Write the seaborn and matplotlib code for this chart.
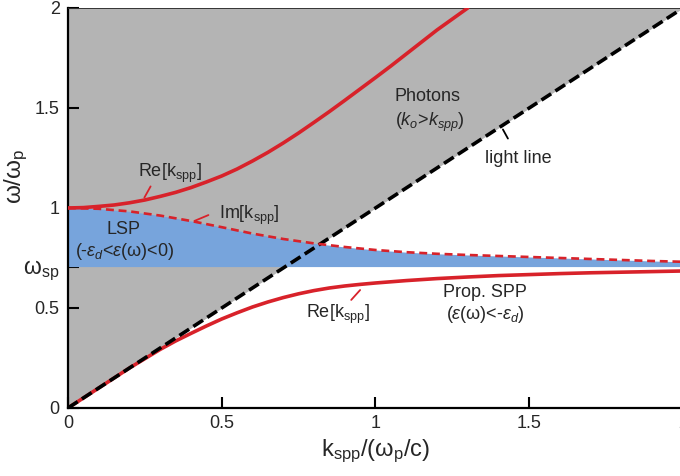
import numpy as np
import pandas as pd
import matplotlib
matplotlib.use("Agg")
import matplotlib.pyplot as plt
import seaborn as sns

# ---- data ----
upper_re_k = [0.0, 0.05, 0.10, 0.15, 0.20, 0.25, 0.30, 0.35, 0.40, 0.45, 0.50, 0.55, 0.60,
              0.65, 0.70, 0.75, 0.80, 0.85, 0.90, 0.95, 1.00, 1.05, 1.10, 1.15, 1.20, 1.25, 1.30]
upper_re_w = [1.0, 1.002, 1.008, 1.015, 1.026, 1.04, 1.058, 1.078, 1.102, 1.13, 1.16, 1.195, 1.235,
              1.278, 1.325, 1.375, 1.428, 1.482, 1.538, 1.595, 1.652, 1.71, 1.77, 1.83, 1.89, 1.945, 2.0]

im_k = [0.0, 0.1, 0.2, 0.3, 0.4, 0.5, 0.6, 0.7, 0.8, 0.9, 1.0, 1.1, 1.2, 1.3, 1.4, 1.5,
        1.6, 1.7, 1.8, 1.9, 2.0]
im_w = [1.0, 0.996, 0.983, 0.962, 0.935, 0.904, 0.872, 0.845, 0.823, 0.805, 0.790, 0.779,
        0.771, 0.765, 0.760, 0.755, 0.750, 0.745, 0.740, 0.735, 0.731]

lower_re_k = [0.0, 0.1, 0.2, 0.3, 0.35, 0.4, 0.45, 0.5, 0.55, 0.6, 0.65, 0.7, 0.75, 0.8, 0.85,
              0.9, 0.95, 1.0, 1.1, 1.2, 1.3, 1.4, 1.5, 1.6, 1.7, 1.8, 1.9, 2.0]
lower_re_w = [0.0, 0.1, 0.2, 0.293, 0.335, 0.373, 0.41, 0.445, 0.476, 0.505, 0.53, 0.552, 0.571,
              0.587, 0.6, 0.61, 0.618, 0.625, 0.637, 0.647, 0.655, 0.662, 0.667, 0.672, 0.676,
              0.679, 0.682, 0.685]

light_k = [0.0, 2.0]
light_w = [0.0, 2.0]

w_sp = 0.707

x_ticks = [0, 0.5, 1, 1.5, 2]
x_tick_labels = ["0", "0.5", "1", "1.5", "2"]
y_ticks = [0, 0.5, w_sp, 1, 1.5, 2]
y_tick_labels = ["0", "0.5", r"ω$_\mathrm{sp}$", "1", "1.5", "2"]

# ---- style ----
sns.set_style("ticks")
plt.rcParams["font.family"] = ["Liberation Sans", "DejaVu Sans"]
plt.rcParams["mathtext.fontset"] = "custom"
plt.rcParams["mathtext.rm"] = "Liberation Sans"
plt.rcParams["mathtext.it"] = "Liberation Sans:italic"
plt.rcParams["mathtext.bf"] = "Liberation Sans:bold"

RED = "#d8222a"
GRAY = "#b4b4b4"
BLUE = "#77a4dc"

fig = plt.figure(figsize=(6.8, 4.76), dpi=100)
ax = fig.add_axes([0.1, 0.1429, 0.9044, 0.8403])

# gray region above the light line
lk = np.array(light_k)
lw_ = np.array(light_w)
ax.fill_between(lk, lw_, 2.0, color=GRAY, lw=0, zorder=0)
# blue LSP band between w_sp and Im curve
ax.fill_between(im_k, w_sp, im_w, color=BLUE, lw=0, zorder=1)

df_low = pd.DataFrame({"k": lower_re_k, "w": lower_re_w})
df_up = pd.DataFrame({"k": upper_re_k, "w": upper_re_w})
df_im = pd.DataFrame({"k": im_k, "w": im_w})
df_light = pd.DataFrame({"k": light_k, "w": light_w})

sns.lineplot(data=df_low, x="k", y="w", ax=ax, color=RED, lw=2.6, sort=False,
             estimator=None, zorder=2)
sns.lineplot(data=df_light, x="k", y="w", ax=ax, color="black", lw=2.6, sort=False,
             estimator=None, zorder=3)
ax.lines[-1].set_dashes([3.2, 1.4])
sns.lineplot(data=df_up, x="k", y="w", ax=ax, color=RED, lw=2.6, sort=False,
             estimator=None, zorder=3)
sns.lineplot(data=df_im, x="k", y="w", ax=ax, color=RED, lw=1.9, sort=False,
             estimator=None, zorder=3)
ax.lines[-1].set_dashes([3.0, 1.8])

ax.set_xlim(0, 2)
ax.set_ylim(0, 2)
ax.set_xticks(x_ticks)
ax.set_xticklabels(x_tick_labels)
ax.set_yticks(y_ticks)
ax.set_yticklabels(y_tick_labels)
ax.tick_params(direction="in", length=8, width=1.5, labelsize=13, color="black")
ax.tick_params(axis="y", pad=6)
ax.tick_params(axis="x", pad=5)
for lbl in ax.get_yticklabels():
    if "sp" in lbl.get_text():
        lbl.set_fontsize(16.5)

for s in ["left", "bottom"]:
    ax.spines[s].set_linewidth(1.6)
    ax.spines[s].set_color("black")
ax.spines["right"].set_visible(False)
ax.spines["top"].set_linewidth(0.7)
ax.spines["top"].set_color("#333333")

ax.set_xlabel(r"k$_\mathrm{spp}$/(ω$_\mathrm{p}$/c)", fontsize=17)
ax.set_ylabel(r"ω/ω$_\mathrm{p}$", fontsize=17.5)
ax.xaxis.set_label_coords(0.5, -0.075)
ax.yaxis.set_label_coords(-0.062, 0.58)

# ---- annotations ----
fs = 13
ax.text(1.17, 1.555, "Photons", fontsize=fs, ha="center", va="center")
ax.text(1.177, 1.43, r"($k_o$>$k_{spp}$)", fontsize=fs, ha="center", va="center")
ax.text(1.463, 1.245, "light line", fontsize=fs, ha="center", va="center")
ax.annotate("", xy=(1.41, 1.405), xytext=(1.435, 1.335),
            arrowprops=dict(arrowstyle="-", color="black", lw=1.3))

ax.text(0.332, 1.175, r"Re[k$_\mathrm{spp}$]", fontsize=fs, ha="center", va="center")
ax.annotate("", xy=(0.244, 1.04), xytext=(0.273, 1.12),
            arrowprops=dict(arrowstyle="-", color=RED, lw=1.3))

ax.text(0.59, 0.965, r"Im[k$_\mathrm{spp}$]", fontsize=fs, ha="center", va="center")
ax.annotate("", xy=(0.403, 0.93), xytext=(0.465, 0.97),
            arrowprops=dict(arrowstyle="-", color=RED, lw=1.3))

ax.text(0.179, 0.89, "LSP", fontsize=fs, ha="center", va="center")
ax.text(0.185, 0.78, r"(-$ε_d$<$ε$(ω)<0)", fontsize=fs, ha="center", va="center")

ax.text(0.878, 0.47, r"Re[k$_\mathrm{spp}$]", fontsize=fs, ha="center", va="center")
ax.annotate("", xy=(0.956, 0.60), xytext=(0.915, 0.53),
            arrowprops=dict(arrowstyle="-", color=RED, lw=1.3))

ax.text(1.356, 0.575, "Prop. SPP", fontsize=fs, ha="center", va="center")
ax.text(1.356, 0.465, r"($ε$(ω)<-$ε_d$)", fontsize=fs, ha="center", va="center")

fig.savefig("out.png", dpi=100)
